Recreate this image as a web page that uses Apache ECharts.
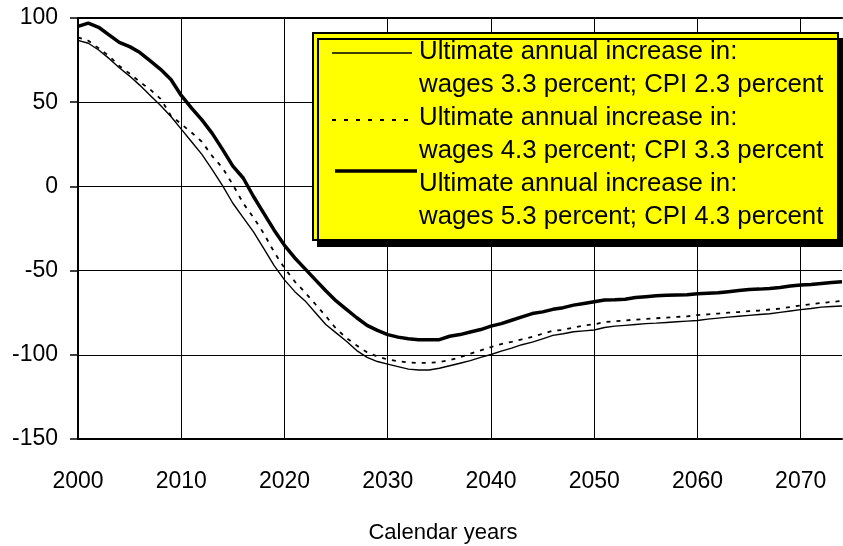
<!DOCTYPE html>
<html>
<head>
<meta charset="utf-8">
<script src="https://cdn.jsdelivr.net/npm/echarts@6/dist/echarts.min.js"></script>
<style>
  html, body { margin: 0; padding: 0; background: #fff; }
  #chart { width: 843px; height: 546px; }
</style>
</head>
<body>
<div id="chart"></div>
<script>
// years on the x axis, 2000 .. 2074
var years = [];
for (var yr = 2000; yr <= 2074; yr++) years.push(String(yr));

// Ultimate annual increase: wages 3.3 percent; CPI 2.3 percent (thin solid)
var low = [
    86.7, 85, 81, 76, 70.5, 65.5, 60, 54, 48, 41.5,
    34, 26.5, 19, 10, 0.5, -10, -18.5, -27, -37, -47,
    -55.5, -62.5, -68, -75, -82, -87, -92, -97.5, -101.5, -104,
    -105.5, -107, -108.5, -109, -109, -108, -106.5, -105, -103.5, -101.5,
    -99.8, -97.8, -96, -94, -92.5, -90.5, -88.5, -87.5, -86.3, -85.8,
    -85.3, -83.8, -83, -82.5, -82, -81.5, -81.2, -80.8, -80.4, -80,
    -79.6, -78.8, -78.2, -77.6, -77.1, -76.6, -76.1, -75.6, -74.8, -74,
    -73.2, -72.5, -71.7, -71.3, -71
];
// wages 4.3 percent; CPI 3.3 percent (dotted)
var mid = [
    88.5, 86.5, 82, 77.5, 71.5, 67, 62, 57.5, 52, 42,
    37, 32, 26.5, 18, 11, 1, -10, -18.5, -28, -39,
    -48.5, -56.5, -63, -70, -77, -84.5, -90, -94.5, -98.5, -101,
    -102.8, -103.8, -104.6, -104.8, -104.8, -104.3, -103.2, -101.5, -99.3, -97.4,
    -95.4, -93.6, -92.3, -90.8, -89.3, -87.5, -85.7, -85.2, -83.8, -82.6,
    -81.9, -80.6, -80.1, -79.6, -79.1, -78.7, -78.3, -77.9, -77.5, -77.2,
    -76.4, -76, -75.5, -75, -74.6, -74.1, -73.7, -73.1, -72.6, -71.6,
    -70.7, -70, -69.2, -68.6, -68
];
// wages 5.3 percent; CPI 4.3 percent (thick solid)
var high = [
    95, 97, 94.5, 90, 85.5, 83, 79.5, 74.5, 69.5, 63.5,
    54, 46.5, 39.5, 31.5, 22, 12, 5, -6, -16, -26,
    -35, -42.5, -49, -55.5, -62, -68, -73, -78, -82.5, -85.5,
    -88, -89.5, -90.5, -91, -91, -91, -89, -88, -86.5, -85,
    -83, -81.5, -79.5, -77.5, -75.5, -74.5, -73, -72, -70.5, -69.5,
    -68.5, -67.5, -67.3, -67, -66, -65.5, -65, -64.7, -64.5, -64.3,
    -63.8, -63.5, -63.2, -62.5, -61.8, -61.2, -61, -60.6, -60, -59.2,
    -58.6, -58.2, -57.6, -57, -56.6
];

var legendLines = [
    'Ultimate annual increase in:',
    'wages 3.3 percent; CPI 2.3 percent',
    'Ultimate annual increase in:',
    'wages 4.3 percent; CPI 3.3 percent',
    'Ultimate annual increase in:',
    'wages 5.3 percent; CPI 4.3 percent'
];

var font = 'Liberation Sans, Arial, sans-serif';

var chart = echarts.init(document.getElementById('chart'));

// legend box drawn by hand (yellow box with drop shadow)
var legendBits = [{
    type: 'rect',
    shape: { x: 313, y: 33, width: 525, height: 207 },
    style: {
        fill: '#ffff00', stroke: '#000', lineWidth: 2,
        shadowColor: '#000', shadowBlur: 0, shadowOffsetX: 5, shadowOffsetY: 6
    },
    z: 100
}, {
    type: 'line',
    shape: { x1: 332, y1: 53, x2: 412, y2: 53 },
    style: { stroke: '#000', lineWidth: 1.5 },
    z: 101
}, {
    type: 'line',
    shape: { x1: 332, y1: 120, x2: 412, y2: 120 },
    style: { stroke: '#000', lineWidth: 1.8, lineDash: [4, 8] },
    z: 101
}, {
    type: 'line',
    shape: { x1: 335, y1: 171, x2: 417, y2: 171 },
    style: { stroke: '#000', lineWidth: 3.5 },
    z: 101
}];
legendLines.forEach(function (t, i) {
    legendBits.push({
        type: 'text',
        x: 419, y: 52 + i * 33,
        style: {
            text: t, fill: '#000', font: '25.8px ' + font,
            textAlign: 'left', textVerticalAlign: 'middle'
        },
        z: 101
    });
});
legendBits.push({
    type: 'text',
    x: 443, y: 533,
    style: {
        text: 'Calendar years', fill: '#000', font: '22px ' + font,
        textAlign: 'center', textVerticalAlign: 'middle'
    }
});

option = {
    animation: false,
    backgroundColor: '#fff',
    grid: { left: 78, right: 1, top: 18, bottom: 107 },
    xAxis: [{
        type: 'category',
        data: years,
        boundaryGap: false,
        axisLine: { onZero: false, lineStyle: { color: '#000', width: 2 } },
        axisTick: { show: false },
        axisLabel: {
            interval: 9, margin: 31, color: '#000',
            fontSize: 23, fontFamily: font
        },
        splitLine: { show: true, interval: 9, lineStyle: { color: '#000', width: 1 } }
    }, {
        type: 'category',
        data: years,
        position: 'top',
        boundaryGap: false,
        axisLine: { onZero: false, lineStyle: { color: '#000', width: 2 } },
        axisTick: { show: false },
        axisLabel: { show: false },
        splitLine: { show: false }
    }],
    yAxis: {
        type: 'value',
        min: -150,
        max: 100,
        interval: 50,
        axisLine: { show: true, onZero: false, lineStyle: { color: '#000', width: 2 } },
        axisTick: { show: true, length: 8, lineStyle: { color: '#000', width: 1.5 } },
        axisLabel: { margin: 20, color: '#000', fontSize: 23, fontFamily: font },
        splitLine: { lineStyle: { color: '#000', width: 1 } }
    },
    series: [{
        name: 'low',
        type: 'line',
        data: low,
        symbol: 'none',
        lineStyle: { color: '#000', width: 1.4 },
        z: 3
    }, {
        name: 'mid',
        type: 'line',
        data: mid,
        symbol: 'none',
        lineStyle: { color: '#000', width: 1.8, type: [4, 6] },
        z: 3
    }, {
        name: 'high',
        type: 'line',
        data: high,
        symbol: 'none',
        lineStyle: { color: '#000', width: 3.5 },
        z: 4
    }],
    graphic: legendBits
};

chart.setOption(option);
</script>
</body>
</html>
